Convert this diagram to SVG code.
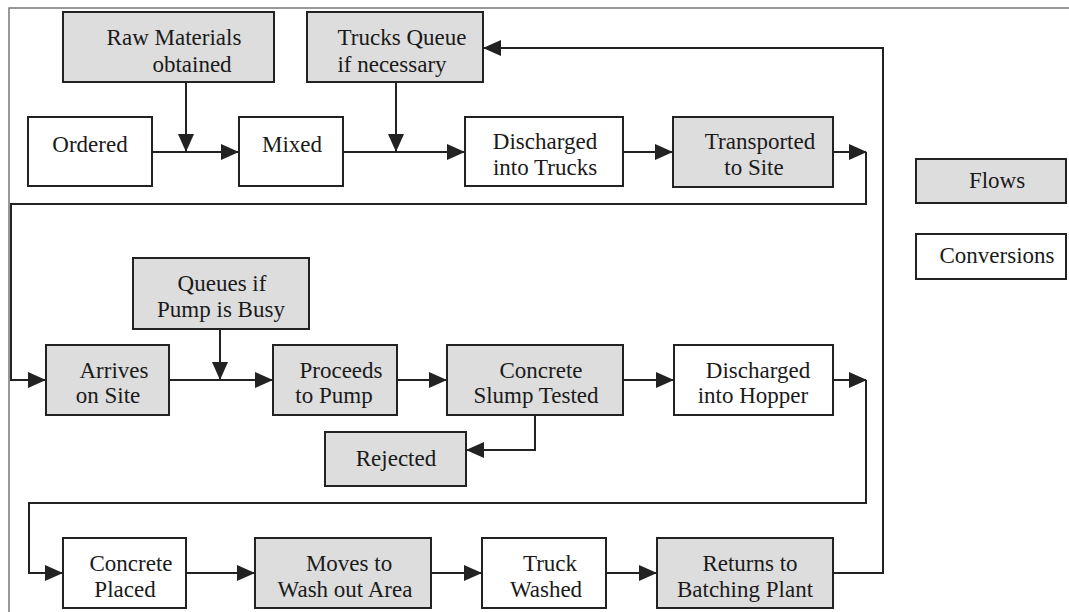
<svg xmlns="http://www.w3.org/2000/svg" width="1069" height="612" viewBox="0 0 1069 612">
  <style>
    .flow { fill: #dddddd; stroke: #222222; stroke-width: 2; }
    .conv { fill: #ffffff; stroke: #222222; stroke-width: 2; }
    .caption { font-family: "Liberation Serif", serif; font-size: 23px; fill: #1a1a1a; text-anchor: middle; }
    .wire { fill: none; stroke: #222222; stroke-width: 2; }
    .frame { fill: none; stroke: #777777; stroke-width: 1.5; }
  </style>
  <defs>
    <marker id="arrow" markerUnits="userSpaceOnUse" markerWidth="18" markerHeight="16" refX="17" refY="8" orient="auto">
      <path d="M0,0 L18,8 L0,16 z" fill="#222222"/>
    </marker>
  </defs>

  <rect width="1069" height="612" fill="#ffffff"/>
  <!-- page frame -->
  <path class="frame" d="M9,612 V8 H1069"/>

  <!-- connectors -->
  <g id="connectors" class="wire">
    <!-- top row -->
    <path d="M152,152 H238" marker-end="url(#arrow)"/>
    <path d="M186,82 V151" marker-end="url(#arrow)"/>
    <path d="M343,152 H464" marker-end="url(#arrow)"/>
    <path d="M396,82 V151" marker-end="url(#arrow)"/>
    <path d="M623,152 H672" marker-end="url(#arrow)"/>
    <path d="M833,152 H866" marker-end="url(#arrow)"/>
    <!-- wrap to second row -->
    <path d="M866,152 V204 H11 V380 H45" marker-end="url(#arrow)"/>
    <!-- second row -->
    <path d="M220,329 V379" marker-end="url(#arrow)"/>
    <path d="M169,380 H272" marker-end="url(#arrow)"/>
    <path d="M397,380 H446" marker-end="url(#arrow)"/>
    <path d="M623,380 H673" marker-end="url(#arrow)"/>
    <path d="M535,415 V450 H467" marker-end="url(#arrow)"/>
    <path d="M833,380 H866" marker-end="url(#arrow)"/>
    <!-- wrap to third row -->
    <path d="M866,380 V503 H29 V573 H62" marker-end="url(#arrow)"/>
    <!-- third row -->
    <path d="M186,573 H254" marker-end="url(#arrow)"/>
    <path d="M431,573 H481" marker-end="url(#arrow)"/>
    <path d="M606,573 H656" marker-end="url(#arrow)"/>
    <!-- return loop -->
    <path d="M833,573 H883 V48 H484" marker-end="url(#arrow)"/>
  </g>

  <!-- nodes -->
  <g id="raw-materials">
    <rect class="flow" x="63" y="12" width="211" height="70"/>
    <text class="caption" x="174" y="45">Raw Materials</text>
    <text class="caption" x="192" y="72">obtained</text>
  </g>
  <g id="trucks-queue">
    <rect class="flow" x="307" y="12" width="176" height="70"/>
    <text class="caption" x="402" y="45">Trucks Queue</text>
    <text class="caption" x="392" y="72">if necessary</text>
  </g>
  <g id="ordered">
    <rect class="conv" x="28" y="117" width="124" height="69"/>
    <text class="caption" x="90" y="152">Ordered</text>
  </g>
  <g id="mixed">
    <rect class="conv" x="239" y="117" width="104" height="69"/>
    <text class="caption" x="292" y="152">Mixed</text>
  </g>
  <g id="discharged-trucks">
    <rect class="conv" x="465" y="117" width="158" height="69"/>
    <text class="caption" x="545" y="149">Discharged</text>
    <text class="caption" x="545" y="175">into Trucks</text>
  </g>
  <g id="transported">
    <rect class="flow" x="673" y="117" width="160" height="70"/>
    <text class="caption" x="760" y="149">Transported</text>
    <text class="caption" x="754" y="175">to Site</text>
  </g>

  <g id="queues-pump">
    <rect class="flow" x="133" y="258" width="176" height="71"/>
    <text class="caption" x="222" y="291">Queues if</text>
    <text class="caption" x="221" y="317">Pump is Busy</text>
  </g>
  <g id="arrives">
    <rect class="flow" x="46" y="345" width="123" height="70"/>
    <text class="caption" x="114" y="378">Arrives</text>
    <text class="caption" x="108" y="403">on Site</text>
  </g>
  <g id="proceeds">
    <rect class="flow" x="273" y="345" width="124" height="70"/>
    <text class="caption" x="341" y="378">Proceeds</text>
    <text class="caption" x="334" y="403">to Pump</text>
  </g>
  <g id="slump-tested">
    <rect class="flow" x="447" y="345" width="176" height="70"/>
    <text class="caption" x="541" y="378">Concrete</text>
    <text class="caption" x="536" y="403">Slump Tested</text>
  </g>
  <g id="discharged-hopper">
    <rect class="conv" x="674" y="345" width="159" height="70"/>
    <text class="caption" x="758" y="378">Discharged</text>
    <text class="caption" x="753" y="403">into Hopper</text>
  </g>
  <g id="rejected">
    <rect class="flow" x="325" y="432" width="141" height="54"/>
    <text class="caption" x="396" y="466">Rejected</text>
  </g>

  <g id="placed">
    <rect class="conv" x="63" y="538" width="123" height="70"/>
    <text class="caption" x="131" y="571">Concrete</text>
    <text class="caption" x="125" y="597">Placed</text>
  </g>
  <g id="wash-area">
    <rect class="flow" x="255" y="538" width="176" height="70"/>
    <text class="caption" x="349" y="571">Moves to</text>
    <text class="caption" x="345" y="597">Wash out Area</text>
  </g>
  <g id="truck-washed">
    <rect class="conv" x="482" y="538" width="124" height="70"/>
    <text class="caption" x="550" y="571">Truck</text>
    <text class="caption" x="546" y="597">Washed</text>
  </g>
  <g id="returns">
    <rect class="flow" x="657" y="538" width="176" height="70"/>
    <text class="caption" x="750" y="571">Returns to</text>
    <text class="caption" x="745" y="597">Batching Plant</text>
  </g>

  <!-- legend -->
  <g id="legend-flows">
    <rect class="flow" x="916" y="159" width="150" height="44"/>
    <text class="caption" x="997" y="188">Flows</text>
  </g>
  <g id="legend-conversions">
    <rect class="conv" x="916" y="234" width="150" height="45"/>
    <text class="caption" x="997" y="263">Conversions</text>
  </g>
</svg>
